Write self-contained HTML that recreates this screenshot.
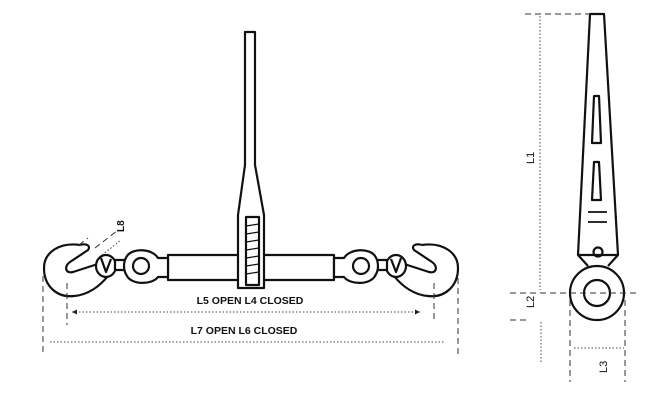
<!DOCTYPE html>
<html><head><meta charset="utf-8"><style>
html,body{margin:0;padding:0;background:#fff;width:650px;height:410px;overflow:hidden}
svg{display:block}
text{font-family:"Liberation Sans",sans-serif;fill:#111}
</style></head><body>
<svg width="650" height="410" viewBox="0 0 650 410">
<g fill="none" stroke="#111" stroke-width="2.2" stroke-linejoin="round">
  <!-- tube -->
  <rect x="168" y="255" width="166" height="25" fill="#fff"/>
  <!-- handle -->
  <path d="M245 32 H255 V165 L264 215 V288 H238 V215 L245 165 Z" fill="#fff"/>
  <rect x="246" y="217" width="13" height="68"/>
  <g stroke-width="1.3">
    <path d="M246 226 L259 224 M246 234 L259 232 M246 242 L259 240 M246 250 L259 248 M246 258 L259 256 M246 266 L259 264 M246 274 L259 272"/>
  </g>
  <!-- left hook assembly -->
  <g id="left">
    <path d="M80 245 C60 242,44 252,44 268 C44 287,58 298,74 296 C88 295,100 286,108 276"/>
    <path d="M104 262 L73 272 C65 274,64 266,70 262 L88 250 C91 246,87 243,80 245"/>
    <ellipse cx="106" cy="266" rx="10" ry="11" fill="#fff"/>
    <path d="M101 258 L106 272 L111 259"/>
    <rect x="115" y="260" width="12" height="10" fill="#fff"/>
    <path d="M127 256 C132 248,152 248,158 258 L168 258 V277 L158 277 C152 285,132 285,127 276 C123 270,123 262,127 256 Z" fill="#fff"/>
    <circle cx="141" cy="266" r="8"/>
  </g>
  <use href="#left" transform="translate(502,0) scale(-1,1)"/>
  <!-- right view lever -->
  <path d="M590 14 H604 L618 255 L578 255 Z" fill="#fff"/>
  <path d="M578 255 L588 266 M618 255 L608 266"/>
  <path d="M594 96 H599 L601 143 H592 Z"/>
  <path d="M594 162 H599 L601 200 H592 Z"/>
  <path d="M588 212 H607 M588 222 H607" stroke-width="1.8"/>
  <circle cx="598" cy="252" r="4.5"/>
  <circle cx="597" cy="293" r="27" fill="#fff"/>
  <circle cx="597" cy="293" r="13"/>
</g>
<g fill="none" stroke="#333" stroke-width="1" stroke-dasharray="6,4">
  <path d="M43 276 V356 M67 283 V325 M434 283 V320 M458 278 V358"/>
  <path d="M525 14 H590 M510 293 H637 M510 320 H526 M570 300 V382 M625 300 V382"/>
  <path d="M95 248 L118 230 M79 245 L88 238"/>
</g>
<g fill="none" stroke="#444" stroke-width="1" stroke-dasharray="1.5,2">
  <path d="M72 312 H420 M50 342 H444 M540 16 H540 V290 M541 322 V363 M574 348 H624"/>
  <path d="M102 255 L121 240"/>
</g>
<path d="M420 312 l-5 -2.5 v5 Z M72 312 l5 -2.5 v5 Z" fill="#222"/>
<text x="250" y="304" font-size="10.5" text-anchor="middle" font-weight="bold">L5 OPEN L4 CLOSED</text>
<text x="244" y="334" font-size="10.5" text-anchor="middle" font-weight="bold">L7 OPEN L6 CLOSED</text>
<text transform="translate(124,232) rotate(-90)" font-size="10" font-weight="bold">L8</text>
<text transform="translate(534,164) rotate(-90)" font-size="11">L1</text>
<text transform="translate(534,308) rotate(-90)" font-size="11">L2</text>
<text transform="translate(607,373) rotate(-90)" font-size="11">L3</text>
</svg>
</body></html>
